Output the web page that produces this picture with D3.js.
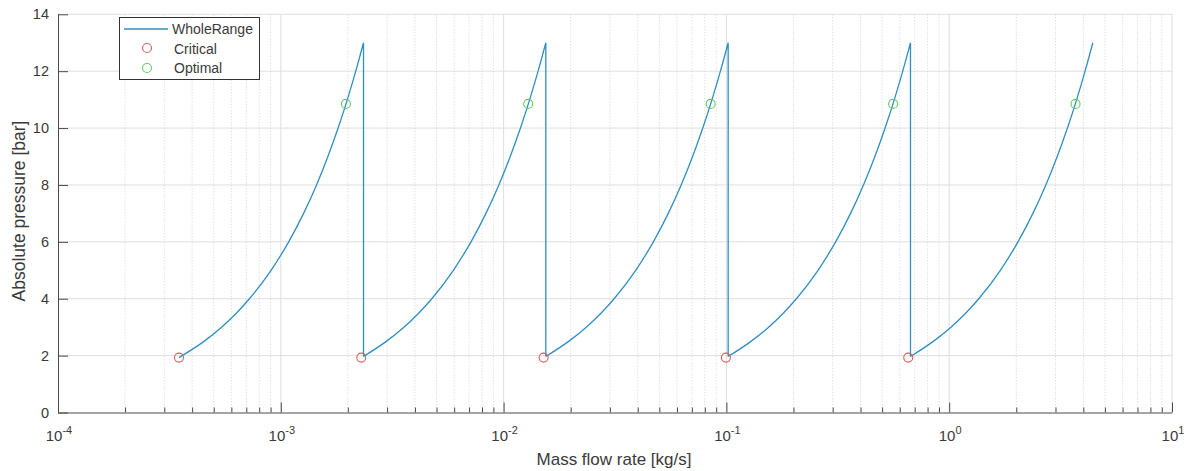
<!DOCTYPE html>
<html>
<head>
<meta charset="utf-8">
<script src="https://cdn.jsdelivr.net/npm/d3@7"></script>
<style>
  body { margin: 0; background: #fff; }
  svg { display: block; font-family: "Liberation Sans", Arial, sans-serif; }
</style>
</head>
<body>
<svg id="chart" width="1195" height="471"></svg>
<script>
// ---- data ----
const pressureLevels = [1.93, 2.5, 3, 3.5, 4, 5, 6, 7, 8, 9, 10, 11, 12, 13];
const seg1X = [3.49e-4, 4.52e-4, 5.42e-4, 6.33e-4, 7.23e-4, 9.04e-4, 1.085e-3, 1.266e-3, 1.447e-3, 1.627e-3, 1.808e-3, 1.989e-3, 2.170e-3, 2.351e-3];
const seg2X = [2.297e-3, 2.975e-3, 3.570e-3, 4.166e-3, 4.761e-3, 5.951e-3, 7.141e-3, 8.331e-3, 9.521e-3, 1.0711e-2, 1.1902e-2, 1.3092e-2, 1.4282e-2, 1.5472e-2];
const seg3X = [1.512e-2, 1.958e-2, 2.350e-2, 2.742e-2, 3.134e-2, 3.917e-2, 4.701e-2, 5.484e-2, 6.267e-2, 7.051e-2, 7.834e-2, 8.618e-2, 9.401e-2, 0.10185];
const seg4X = [0.0995, 0.1289, 0.1547, 0.1804, 0.2062, 0.2578, 0.3093, 0.3609, 0.4124, 0.4640, 0.5155, 0.5671, 0.6187, 0.6702];
const seg5X = [0.655, 0.8484, 1.0181, 1.1878, 1.3575, 1.6969, 2.0363, 2.3756, 2.7150, 3.0544, 3.3938, 3.7332, 4.0725, 4.4119];
const dropPressure = 1.97;   // where each vertical drop meets the next curve

const criticalX = [3.49e-4, 2.297e-3, 1.512e-2, 0.0995, 0.655];
const criticalP = [1.93, 1.93, 1.93, 1.93, 1.93];
const optimalX = [1.96e-3, 1.29e-2, 8.5e-2, 0.56, 3.69];
const optimalP = [10.85, 10.85, 10.85, 10.85, 10.85];

const xMajorTicks = [1e-4, 1e-3, 1e-2, 1e-1, 1e0, 1e1];
const xTickExponents = ["-4", "-3", "-2", "-1", "0", "1"];
const yTicks = [0, 2, 4, 6, 8, 10, 12, 14];
const legendLabels = ["WholeRange", "Critical", "Optimal"];

// ---- layout ----
const svg = d3.select("#chart");
const pL = 58, pR = 1172, pT = 14.3, pB = 412.5;
const x = d3.scaleLog().domain([1e-4, 10]).range([pL, pR]);
const y = d3.scaleLinear().domain([0, 14]).range([pB, pT]);

const lineColor = "#2f8fc0";
const axisColor = "#4a4a4a";
const textColor = "#3a3a3a";

// minor tick values
const xMinor = [];
for (let e = -4; e < 1; e++) for (let m = 2; m <= 9; m++) xMinor.push(m * Math.pow(10, e));

// ---- grid ----
const grid = svg.append("g");
grid.selectAll(".ymaj").data(yTicks.filter(d => d > 0)).join("line")
  .attr("x1", pL).attr("x2", pR)
  .attr("y1", d => y(d)).attr("y2", d => y(d))
  .attr("stroke", "#dedede").attr("stroke-width", 1);
grid.selectAll(".xmin").data(xMinor).join("line")
  .attr("x1", d => x(d)).attr("x2", d => x(d))
  .attr("y1", pT).attr("y2", pB)
  .attr("stroke", "#d2d2d2").attr("stroke-width", 1).attr("stroke-dasharray", "1,2");
grid.selectAll(".xmaj").data(xMajorTicks.slice(1)).join("line")
  .attr("x1", d => x(d)).attr("x2", d => x(d))
  .attr("y1", pT).attr("y2", pB)
  .attr("stroke", "#dedede").attr("stroke-width", 1);

// ---- axes ----
const xAxis = d3.axisBottom(x).tickValues(xMajorTicks).tickFormat("").tickSizeInner(-10).tickSizeOuter(0);
const gx = svg.append("g").attr("transform", `translate(0,${pB})`).call(xAxis);
const xAxisMinor = d3.axisBottom(x).tickValues(xMinor).tickFormat("").tickSizeInner(-5).tickSizeOuter(0);
const gxm = svg.append("g").attr("transform", `translate(0,${pB})`).call(xAxisMinor);
gxm.select(".domain").remove();
[gx, gxm].forEach(g => {
  g.select(".domain").attr("stroke", axisColor);
  g.selectAll(".tick line").attr("stroke", axisColor);
});
gx.select(".domain").attr("d", `M${pL},0.5H${pR}`);

// x tick labels 10^n
const xl = svg.append("g").attr("fill", textColor).attr("font-size", 15);
xMajorTicks.forEach((v, i) => {
  const t = xl.append("text").attr("x", x(v) + 1).attr("y", pB + 28).attr("text-anchor", "middle");
  t.append("tspan").text("10");
  t.append("tspan").attr("dy", -7).attr("font-size", 11).text(xTickExponents[i]);
});

const yAxis = d3.axisLeft(y).tickValues(yTicks).tickSizeInner(-10).tickSizeOuter(0).tickPadding(9);
const gy = svg.append("g").attr("transform", `translate(${pL},0)`).call(yAxis);
gy.select(".domain").attr("stroke", axisColor).attr("d", `M0.5,${pT}V${pB}`);
gy.selectAll(".tick line").attr("stroke", axisColor);
gy.selectAll(".tick text").attr("fill", textColor).attr("font-size", 14.5)
  .attr("font-family", "Liberation Sans, Arial, sans-serif");

// axis titles
svg.append("text").attr("x", 614).attr("y", 465)
  .attr("text-anchor", "middle").attr("font-size", 17).attr("fill", textColor)
  .text("Mass flow rate [kg/s]");
svg.append("text").attr("transform", `translate(25,211) rotate(-90)`)
  .attr("text-anchor", "middle").attr("font-size", 17.5).attr("fill", textColor)
  .text("Absolute pressure [bar]");

// ---- WholeRange line (smooth curve pieces joined by vertical drops) ----
const segments = [seg1X, seg2X, seg3X, seg4X, seg5X];
const curveLine = d3.line().x(d => x(d[0])).y(d => y(d[1])).curve(d3.curveMonotoneX);
const straightLine = d3.line().x(d => x(d[0])).y(d => y(d[1]));
let pathD = "";
segments.forEach((sx, si) => {
  const pts = sx.map((xv, i) => [xv, pressureLevels[i]]);
  if (si > 0) {
    const prevTop = segments[si - 1][segments[si - 1].length - 1];
    pts[0] = [prevTop, dropPressure];
    pathD += straightLine([[prevTop, pressureLevels[pressureLevels.length - 1]], [prevTop, dropPressure]]);
  }
  pathD += curveLine(pts);
});
svg.append("path").attr("d", pathD)
  .attr("fill", "none").attr("stroke", lineColor).attr("stroke-width", 1.3)
  .attr("stroke-linejoin", "round");

// ---- markers ----
const critColor = "#e05a5a", optColor = "#63cc63";
svg.append("g").selectAll("circle").data(criticalX).join("circle")
  .attr("cx", d => x(d)).attr("cy", (d, i) => y(criticalP[i])).attr("r", 4.5)
  .attr("fill", "none").attr("stroke", critColor).attr("stroke-width", 1.1);
svg.append("g").selectAll("circle").data(optimalX).join("circle")
  .attr("cx", d => x(d)).attr("cy", (d, i) => y(optimalP[i])).attr("r", 4.5)
  .attr("fill", "none").attr("stroke", optColor).attr("stroke-width", 1.1);

// ---- legend ----
const lg = svg.append("g");
lg.append("rect").attr("x", 119.5).attr("y", 17.5).attr("width", 140).attr("height", 62)
  .attr("fill", "#fff").attr("stroke", "#333").attr("stroke-width", 1);
lg.append("line").attr("x1", 124).attr("x2", 168).attr("y1", 29).attr("y2", 29)
  .attr("stroke", lineColor).attr("stroke-width", 1.3);
lg.append("circle").attr("cx", 147).attr("cy", 48).attr("r", 4.5)
  .attr("fill", "none").attr("stroke", critColor).attr("stroke-width", 1.1);
lg.append("circle").attr("cx", 147).attr("cy", 68).attr("r", 4.5)
  .attr("fill", "none").attr("stroke", optColor).attr("stroke-width", 1.1);
legendLabels.forEach((t, i) => {
  lg.append("text").attr("x", i === 0 ? 172 : 174).attr("y", 34 + i * 19.5)
    .attr("font-size", 14).attr("fill", textColor).text(t);
});
</script>
</body>
</html>
